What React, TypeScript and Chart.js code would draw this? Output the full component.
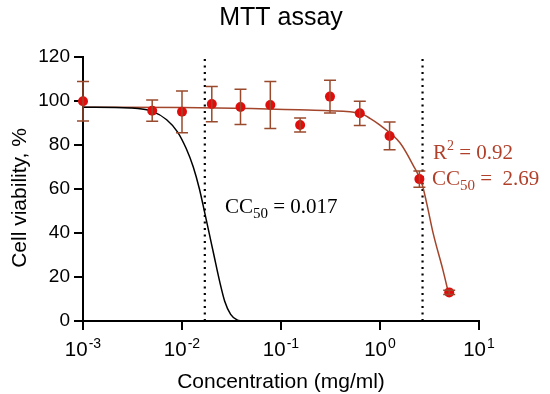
import React, { useEffect, useRef } from "react";
import { Chart, registerables } from "chart.js";

Chart.register(...registerables);

// ---- data ----
const concentrations = [0.001, 0.005, 0.01, 0.02, 0.039, 0.078, 0.156, 0.3125, 0.625, 1.25, 2.5, 5];
const viability = [99.9, 95.6, 95.1, 98.6, 97.3, 98.2, 89.1, 102, 94.4, 84.1, 64.5, 13];
const viabilityErr = [9, 4.8, 9.5, 8, 8, 10.7, 3.2, 7.4, 5.5, 6.3, 3.7, 1];

// fitted curve of the sample (red)
const fitX = [0.001, 0.01, 0.05, 0.15, 0.3, 0.63, 0.8, 1.0, 1.59, 2.15, 2.64, 2.96, 3.45, 4.35, 4.9];
const fitY = [97.2, 97.0, 96.6, 96.0, 95.6, 94.4, 92.0, 89.0, 81.0, 71.0, 62.7, 53.6, 39.7, 22.7, 13];

// reference curve (black)
const refX = [0.001, 0.003, 0.005, 0.007, 0.009, 0.011, 0.013, 0.015, 0.017, 0.019, 0.021, 0.024, 0.027, 0.031, 0.036, 0.04];
const refY = [97.2, 96.8, 95.3, 91.5, 86, 78.5, 70, 60, 49, 39, 30, 18, 9, 3, 0.5, 0];

const cc50Ref = 0.017;
const cc50Sample = 2.69;
const r2Sample = 0.92;

const xTicks = [0.001, 0.01, 0.1, 1, 10];
const xTickExp = ["-3", "-2", "-1", "0", "1"];
const yTicks = [0, 20, 40, 60, 80, 100, 120];

const SANS = "'Liberation Sans', Arial, sans-serif";
const SERIF = "'Liberation Serif', 'Times New Roman', serif";
const RED_TEXT = "#b0402a";

type Piece = { t: string; size: number; dy: number };

function drawPieces(ctx: CanvasRenderingContext2D, pieces: Piece[], x: number, y: number, family: string, color: string) {
  ctx.fillStyle = color;
  ctx.textAlign = "left";
  ctx.textBaseline = "alphabetic";
  let cx = x;
  for (const p of pieces) {
    ctx.font = `${p.size}px ${family}`;
    ctx.fillText(p.t, cx, y + p.dy);
    cx += ctx.measureText(p.t).width;
  }
}

const errorBars = {
  id: "errorBars",
  afterDatasetsDraw(chart: any) {
    const { ctx, scales } = chart;
    const xs = scales.x;
    const ys = scales.y;
    ctx.save();
    ctx.strokeStyle = "#9a4a2c";
    ctx.lineWidth = 1.5;
    concentrations.forEach((c, i) => {
      const px = xs.getPixelForValue(c);
      const top = ys.getPixelForValue(viability[i] + viabilityErr[i]);
      const bot = ys.getPixelForValue(viability[i] - viabilityErr[i]);
      ctx.beginPath();
      ctx.moveTo(px, top);
      ctx.lineTo(px, bot);
      ctx.moveTo(px - 6, top);
      ctx.lineTo(px + 6, top);
      ctx.moveTo(px - 6, bot);
      ctx.lineTo(px + 6, bot);
      ctx.stroke();
    });
    ctx.restore();
  },
};

const texts = {
  id: "texts",
  afterDraw(chart: any) {
    const { ctx, scales, chartArea } = chart;
    const xs = scales.x;
    ctx.save();
    // title
    ctx.fillStyle = "#000";
    ctx.font = `25px ${SANS}`;
    ctx.textAlign = "center";
    ctx.textBaseline = "alphabetic";
    ctx.fillText("MTT assay", (chartArea.left + chartArea.right) / 2, 25);
    // x title
    ctx.font = `21px ${SANS}`;
    ctx.fillText("Concentration (mg/ml)", (chartArea.left + chartArea.right) / 2, 388);
    // y title
    ctx.save();
    ctx.translate(26, 198);
    ctx.rotate(-Math.PI / 2);
    ctx.textAlign = "center";
    ctx.fillText("Cell viability, %", 0, 0);
    ctx.restore();
    // x tick labels
    xTicks.forEach((v, i) => {
      const px = xs.getPixelForValue(v);
      ctx.font = `20.5px ${SANS}`;
      const w1 = ctx.measureText("10").width;
      ctx.font = `14px ${SANS}`;
      const w2 = ctx.measureText(xTickExp[i]).width;
      const start = px - (w1 + w2 + 1) / 2;
      drawPieces(ctx, [
        { t: "10", size: 20.5, dy: 0 },
      ], start, 356, SANS, "#000");
      drawPieces(ctx, [{ t: xTickExp[i], size: 14, dy: 0 }], start + w1 + 1, 348, SANS, "#000");
    });
    // annotations
    drawPieces(ctx, [
      { t: "CC", size: 21, dy: 0 },
      { t: "50", size: 15, dy: 5 },
      { t: " = " + cc50Ref.toString(), size: 21, dy: 0 },
    ], 225, 213, SERIF, "#000");
    drawPieces(ctx, [
      { t: "R", size: 21, dy: 0 },
      { t: "2", size: 14, dy: -9 },
      { t: " = " + r2Sample.toFixed(2), size: 21, dy: 0 },
    ], 433, 159, SERIF, RED_TEXT);
    drawPieces(ctx, [
      { t: "CC", size: 21, dy: 0 },
      { t: "50", size: 15, dy: 5 },
      { t: " =  " + cc50Sample.toFixed(2), size: 21, dy: 0 },
    ], 432, 185, SERIF, RED_TEXT);
    ctx.restore();
  },
};

export default function App() {
  const ref = useRef<HTMLCanvasElement | null>(null);
  useEffect(() => {
    if (!ref.current) return;
    const chart = new Chart(ref.current, {
      type: "scatter",
      data: {
        datasets: [
          {
            label: "points",
            data: concentrations.map((c, i) => ({ x: c, y: viability[i] })),
            backgroundColor: "#e00d0d",
            borderWidth: 0,
            pointRadius: 5,
            showLine: false,
            clip: false,
          } as any,
          {
            label: "reference",
            data: refX.map((x, i) => ({ x, y: refY[i] })),
            showLine: true,
            borderColor: "#000",
            borderWidth: 1.5,
            pointRadius: 0,
            cubicInterpolationMode: "monotone",
          },
          {
            label: "fit",
            data: fitX.map((x, i) => ({ x, y: fitY[i] })),
            showLine: true,
            borderColor: "#a3452b",
            borderWidth: 1.5,
            pointRadius: 0,
            cubicInterpolationMode: "monotone",
          },
          {
            label: "cc50ref",
            data: [{ x: cc50Ref, y: 0 }, { x: cc50Ref, y: 120 }],
            showLine: true,
            borderColor: "#000",
            borderWidth: 2.2,
            borderDash: [2, 4.5],
            pointRadius: 0,
          },
          {
            label: "cc50sample",
            data: [{ x: cc50Sample, y: 0 }, { x: cc50Sample, y: 120 }],
            showLine: true,
            borderColor: "#000",
            borderWidth: 2.2,
            borderDash: [2, 4.5],
            pointRadius: 0,
          },
        ],
      },
      options: {
        animation: false,
        responsive: false,
        maintainAspectRatio: false,
        layout: { padding: { left: 0, top: 57, right: 71, bottom: 0 } },
        plugins: {
          legend: { display: false },
          tooltip: { enabled: false },
          title: { display: false },
        },
        scales: {
          x: {
            type: "logarithmic",
            min: 0.001,
            max: 10,
            afterBuildTicks: (s: any) => {
              s.ticks = xTicks.map((v) => ({ value: v }));
            },
            afterFit: (s: any) => {
              s.height = 73;
            },
            ticks: { display: false },
            grid: {
              display: true,
              drawOnChartArea: false,
              drawTicks: true,
              tickLength: 9,
              color: "#000",
              lineWidth: 2,
            },
            border: { display: true, color: "#000", width: 2 },
          },
          y: {
            min: 0,
            max: 120,
            afterBuildTicks: (s: any) => {
              s.ticks = yTicks.map((v) => ({ value: v }));
            },
            afterFit: (s: any) => {
              s.width = 83;
            },
            ticks: {
              color: "#000",
              font: { family: SANS, size: 19 },
              padding: 4,
            },
            grid: {
              display: true,
              drawOnChartArea: false,
              drawTicks: true,
              tickLength: 9,
              color: "#000",
              lineWidth: 2,
            },
            border: { display: true, color: "#000", width: 2 },
          },
        },
      } as any,
      plugins: [errorBars, texts],
    });
    return () => chart.destroy();
  }, []);
  return (
    <div style={{ position: "fixed", left: 0, top: 0, width: 550, height: 394, background: "#fff" }}>
      <canvas ref={ref} width={550} height={394} style={{ width: 550, height: 394 }} />
    </div>
  );
}
